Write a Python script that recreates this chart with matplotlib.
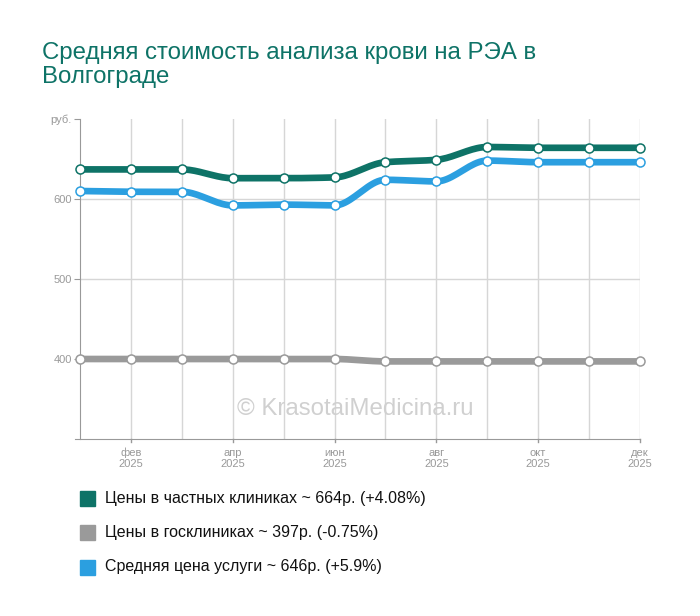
import numpy as np
import matplotlib.pyplot as plt
from matplotlib.patches import Rectangle

plt.rcParams['font.family'] = ['Liberation Sans', 'DejaVu Sans']

months = ['янв', 'фев', 'мар', 'апр', 'май', 'июн', 'июл', 'авг', 'сен', 'окт', 'ноя', 'дек']
private = [637, 637, 637, 626, 626, 627, 646, 649, 665, 664, 664, 664]
public = [400, 400, 400, 400, 400, 400, 397, 397, 397, 397, 397, 397]
average = [610, 609, 609, 592, 593, 592, 624, 622, 648, 646, 646, 646]

labels = ['Цены в частных клиниках ~ 664р. (+4.08%)',
          'Цены в госклиниках ~ 397р. (-0.75%)',
          'Средняя цена услуги ~ 646р. (+5.9%)']
colors = ['#0e7367', '#9a9a9a', '#2b9fe0']


def smooth(y, n=20):
    # monotone cubic (Fritsch-Carlson) just for the look of the line
    y = np.asarray(y, float)
    x = np.arange(len(y))
    d = np.diff(y)
    m = np.zeros_like(y)
    m[0], m[-1] = d[0], d[-1]
    for i in range(1, len(y) - 1):
        if d[i - 1] * d[i] <= 0:
            m[i] = 0
        else:
            m[i] = 2 / (1 / d[i - 1] + 1 / d[i])
    xs, ys = [], []
    for i in range(len(y) - 1):
        t = np.linspace(0, 1, n, endpoint=False)
        h00 = 2 * t**3 - 3 * t**2 + 1
        h10 = t**3 - 2 * t**2 + t
        h01 = -2 * t**3 + 3 * t**2
        h11 = t**3 - t**2
        xs.append(x[i] + t)
        ys.append(h00 * y[i] + h10 * m[i] + h01 * y[i + 1] + h11 * m[i + 1])
    xs.append([x[-1]])
    ys.append([y[-1]])
    return np.concatenate(xs), np.concatenate(ys)


fig = plt.figure(figsize=(7, 6.16), dpi=100)
ax = fig.add_axes([80 / 700, 1 - 439 / 616, 560 / 700, 320 / 616])

x = np.arange(len(months))
for vals, c in zip([public, average, private], [colors[1], colors[2], colors[0]]):
    sx, sy = smooth(vals)
    ax.plot(sx, sy, color=c, lw=4.8, solid_capstyle='round', zorder=3)
    ax.plot(x, vals, 'o', ms=6.5, mfc='white', mec=c, mew=1.1, zorder=4, clip_on=False)

ax.set_xlim(0, 11)
ax.set_ylim(300, 700)
ax.set_yticks([400, 500, 600, 700])
ax.set_yticklabels(['400', '500', '600', 'руб.'])
ax.set_xticks(x)
ax.set_xticklabels([''] * 12)
for i in range(1, 12, 2):
    ax.text(i, 289, months[i] + '\n2025', ha='center', va='top', fontsize=8,
            color='#999999', linespacing=1.1)
ax.tick_params(axis='x', length=0)
ax.tick_params(axis='y', length=4, color='#999999', labelcolor='#999999', labelsize=8, pad=2)
for i in range(1, 12, 2):
    ax.plot([i, i], [300, 296], color='#999999', lw=1, clip_on=False)

for i in range(1, 12):
    ax.axvline(i, color='#d6d6d6', lw=1, zorder=1)
for v in [400, 500, 600]:
    ax.axhline(v, color='#d6d6d6', lw=1, zorder=1)

for s in ['top', 'right']:
    ax.spines[s].set_visible(False)
ax.spines['left'].set_color('#999999')
ax.spines['bottom'].set_color('#999999')
ax.spines['bottom'].set_bounds(-0.1, 11)
ax.spines['left'].set_bounds(300, 700)

ax.text(5.4, 337, '© KrasotaiMedicina.ru', ha='center', va='center', fontsize=17.3,
        color='#d0d0d0', zorder=2)

fig.text(42 / 700, 1 - 65 / 616, 'Средняя стоимость анализа крови на РЭА в\nВолгограде',
         ha='left', va='center', fontsize=17.3, color='#0e7367', linespacing=1.1)

for k, (lab, c) in enumerate(zip(labels, colors)):
    yc = 1 - (498 + k * 34.5) / 616
    fig.patches.append(Rectangle((80 / 700, yc - 7.5 / 616), 15 / 700, 15 / 616,
                                 transform=fig.transFigure, color=c))
    fig.text(105 / 700, yc, lab, ha='left', va='center', fontsize=11.5, color='#111111')

fig.savefig('out.png', dpi=100)
